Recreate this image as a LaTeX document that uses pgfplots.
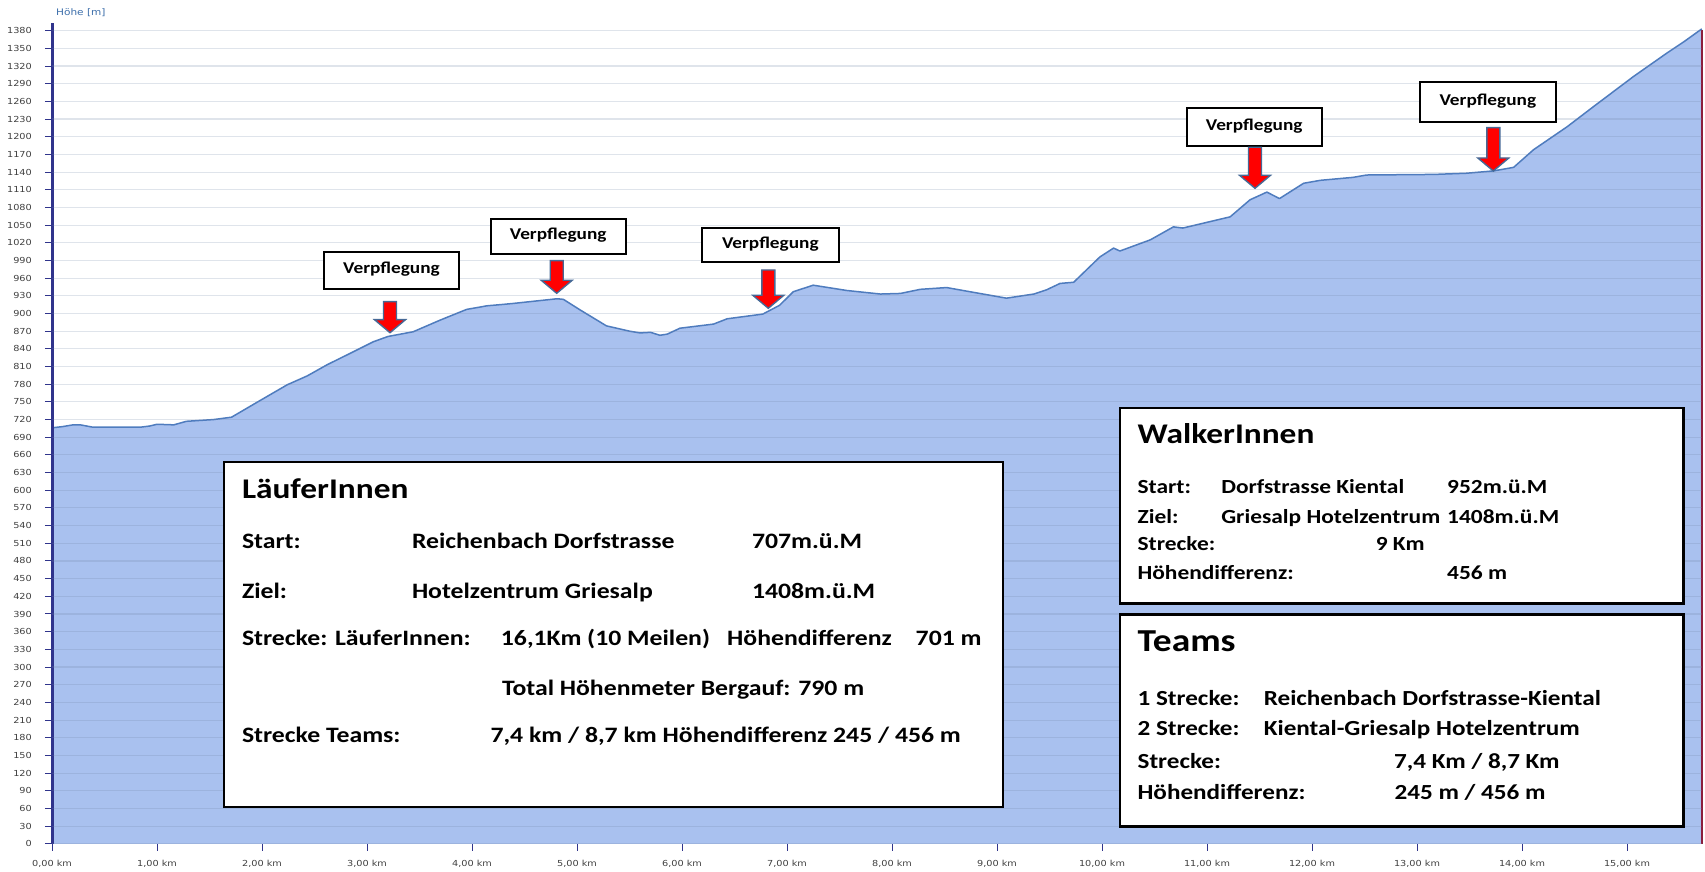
\documentclass[border=0pt]{standalone}
\usepackage{pgfplots}
\usepackage{pgfplotstable}
\pgfplotsset{compat=1.18}
\usepackage{fontspec}
\newfontfamily\boxfont[FakeStretch=1.17]{Carlito}
\newfontfamily\tickfont[FakeStretch=1.17]{DejaVu Sans}
\definecolor{areafill}{RGB}{169,193,239}
\definecolor{arealine}{RGB}{79,124,190}
\definecolor{gridc}{RGB}{110,130,165}
\definecolor{navyax}{RGB}{48,52,140}
\definecolor{maroonax}{RGB}{140,30,60}
\definecolor{tickgray}{RGB}{64,64,64}
\definecolor{hoehe}{RGB}{60,110,170}
\definecolor{arrowedge}{RGB}{70,105,150}

\pgfplotstableread{
km m
0.00 706
0.10 708
0.20 711
0.27 711
0.39 707
0.60 707
0.84 707
0.93 709
1.00 712
1.16 711
1.28 717
1.54 720
1.71 724
1.95 749
2.24 779
2.43 794
2.62 813
2.87 835
3.06 852
3.20 861
3.44 869
3.70 889
3.95 907
4.08 911
4.14 913
4.27 915
4.39 917
4.60 921
4.81 925
4.87 924
5.03 906
5.28 879
5.50 870
5.60 867
5.70 868
5.79 863
5.86 865
5.98 875
6.30 882
6.43 891
6.77 899
6.93 914
7.06 937
7.25 948
7.57 939
7.89 933
8.08 934
8.27 941
8.52 944
8.74 937
9.09 926
9.35 933
9.47 940
9.60 951
9.73 953
9.98 996
10.11 1011
10.17 1006
10.46 1025
10.68 1047
10.77 1045
11.22 1064
11.41 1093
11.57 1106
11.69 1095
11.92 1121
12.08 1126
12.39 1131
12.52 1135
13.16 1136
13.47 1138
13.73 1142
13.92 1148
14.11 1178
14.43 1217
14.68 1251
15.06 1302
15.38 1342
15.54 1361
15.712 1383
}\profile

\newcommand{\varrow}[3]{%
 \draw[arrowedge, line width=1.4pt, fill=red, line join=miter]
 ({#1-6.5},#2) -- ({#1+6.5},#2) -- ({#1+6.5},{#3-13}) -- ({#1+15.5},{#3-13})
 -- (#1,#3) -- ({#1-15.5},{#3-13}) -- ({#1-6.5},{#3-13}) -- cycle;}
\newcommand{\vpbox}[4]{%
 \draw[black, line width=1.8pt, fill=white] (#1,#2) rectangle (#3,#4);
 \node[font=\boxfont\bfseries\fontsize{16.5}{18}\selectfont, inner sep=0pt]
   at ({(#1+#3)/2},{(#2+#4)/2-1}) {Verpflegung};}
\newcommand{\bt}[3]{\node[anchor=base west, inner sep=0pt] at (#1,#2) {#3};}

\begin{document}
\begin{tikzpicture}
\useasboundingbox (0,0) rectangle (1705pt,872pt);
\begin{axis}[
  at={(52pt,28.2pt)}, anchor=south west,
  scale only axis, width=1649.8pt, height=820.8pt,
  xmin=0, xmax=15.712, ymin=0, ymax=1393,
  clip=false,
  axis on top,
  axis line style={draw=none},
  xtick={0,1,...,15},
  xticklabels={{0,00 km},{1,00 km},{2,00 km},{3,00 km},{4,00 km},{5,00 km},{6,00 km},{7,00 km},{8,00 km},{9,00 km},{10,00 km},{11,00 km},{12,00 km},{13,00 km},{14,00 km},{15,00 km}},
  ytick={0,30,...,1380},
  xtick pos=bottom, ytick pos=left,
  tick align=outside,
  major tick length=7pt,
  tick style={draw=navyax, line width=1pt},
  ymajorgrids=true,
  grid style={draw=gridc, draw opacity=0.22, line width=1.1pt},
  ticklabel style={font=\tickfont\fontsize{8.3}{10}\selectfont, text=tickgray, inner sep=0pt},
  yticklabel shift=13pt,
  xticklabel shift=9pt,
  /pgf/number format/.cd, assume math mode=true, 1000 sep={},
]
\addplot[draw=none, fill=areafill] table[x=km,y=m] {\profile} \closedcycle;
\addplot[draw=arealine, line width=1.5pt, line join=round] table[x=km,y=m] {\profile};
\draw[navyax, line width=3pt] (rel axis cs:0,0) -- (rel axis cs:0,1);
\draw[maroonax, line width=2pt] (rel axis cs:1,0) -- (rel axis cs:1,0.992);
\end{axis}

\begin{scope}[x=1pt, y=-1pt, shift={(0,872pt)}]
\node[anchor=west, inner sep=0pt, font=\tickfont\fontsize{9}{10}\selectfont, text=hoehe] at (56,12.7) {Höhe [m]};

% Verpflegung boxes and arrows
\vpbox{324}{252.3}{459}{289}
\varrow{390}{301.7}{332.7}
\vpbox{490.7}{219.3}{625.7}{254}
\varrow{556.7}{260.7}{293.3}
\vpbox{701.7}{227.7}{839}{262.3}
\varrow{768.3}{270}{308.3}
\vpbox{1186.7}{107.7}{1321.7}{145.7}
\varrow{1255}{147.3}{188.3}
\vpbox{1420}{81.7}{1555.7}{121.7}
\varrow{1493.3}{127.7}{171}

% LaeuferInnen box
\draw[black, line width=2.4pt, fill=white] (224,462) rectangle (1003,807);
\begin{scope}[font=\boxfont\bfseries\fontsize{28.5}{30}\selectfont]
\bt{241.8}{498.5}{LäuferInnen}
\end{scope}
\begin{scope}[font=\boxfont\bfseries\fontsize{22}{24}\selectfont]
\bt{241.8}{548.4}{Start:}
\bt{411.8}{548.4}{Reichenbach Dorfstrasse}
\bt{751.8}{548.4}{707m.ü.M}
\bt{241.8}{598.2}{Ziel:}
\bt{411.8}{598.2}{Hotelzentrum Griesalp}
\bt{751.8}{598.2}{1408m.ü.M}
\bt{241.8}{645.7}{Strecke: LäuferInnen:}
\bt{500.7}{645.7}{16,1Km (10 Meilen)}
\bt{727}{645.7}{Höhendifferenz}
\bt{915.5}{645.7}{701 m}
\bt{501.8}{695.6}{Total Höhenmeter Bergauf: 790 m}
\bt{241.8}{742.8}{Strecke Teams:}
\bt{490.3}{742.8}{7,4 km / 8,7 km Höhendifferenz 245 / 456 m}
\end{scope}

% WalkerInnen box
\draw[black, line width=2.4pt, fill=white] (1120,407.8) rectangle (1683.3,603.5);
\begin{scope}[font=\boxfont\bfseries\fontsize{28.5}{30}\selectfont]
\bt{1137.4}{444}{WalkerInnen}
\end{scope}
\begin{scope}[font=\boxfont\bfseries\fontsize{20}{22}\selectfont]
\bt{1137.4}{494}{Start:}
\bt{1221.1}{494}{Dorfstrasse Kiental}
\bt{1447}{494}{952m.ü.M}
\bt{1137.4}{523.5}{Ziel:}
\bt{1221.1}{523.5}{Griesalp Hotelzentrum}
\bt{1447}{523.5}{1408m.ü.M}
\bt{1137.4}{550.7}{Strecke:}
\bt{1375.6}{550.7}{9 Km}
\bt{1137.4}{580}{Höhendifferenz:}
\bt{1447}{580}{456 m}
\end{scope}

% Teams box
\draw[black, line width=2.4pt, fill=white] (1120,614.4) rectangle (1683.3,826.4);
\begin{scope}[font=\boxfont\bfseries\fontsize{32}{34}\selectfont]
\bt{1137.4}{652}{Teams}
\end{scope}
\begin{scope}[font=\boxfont\bfseries\fontsize{21.5}{23}\selectfont]
\bt{1137.4}{705.5}{1 Strecke:}
\bt{1263.6}{705.5}{Reichenbach Dorfstrasse-Kiental}
\bt{1137.4}{736}{2 Strecke:}
\bt{1263.6}{736}{Kiental-Griesalp Hotelzentrum}
\bt{1137.4}{768.7}{Strecke:}
\bt{1394}{768.7}{7,4 Km / 8,7 Km}
\bt{1137.4}{799.3}{Höhendifferenz:}
\bt{1394.4}{799.3}{245 m / 456 m}
\end{scope}
\end{scope}
\end{tikzpicture}
\end{document}
